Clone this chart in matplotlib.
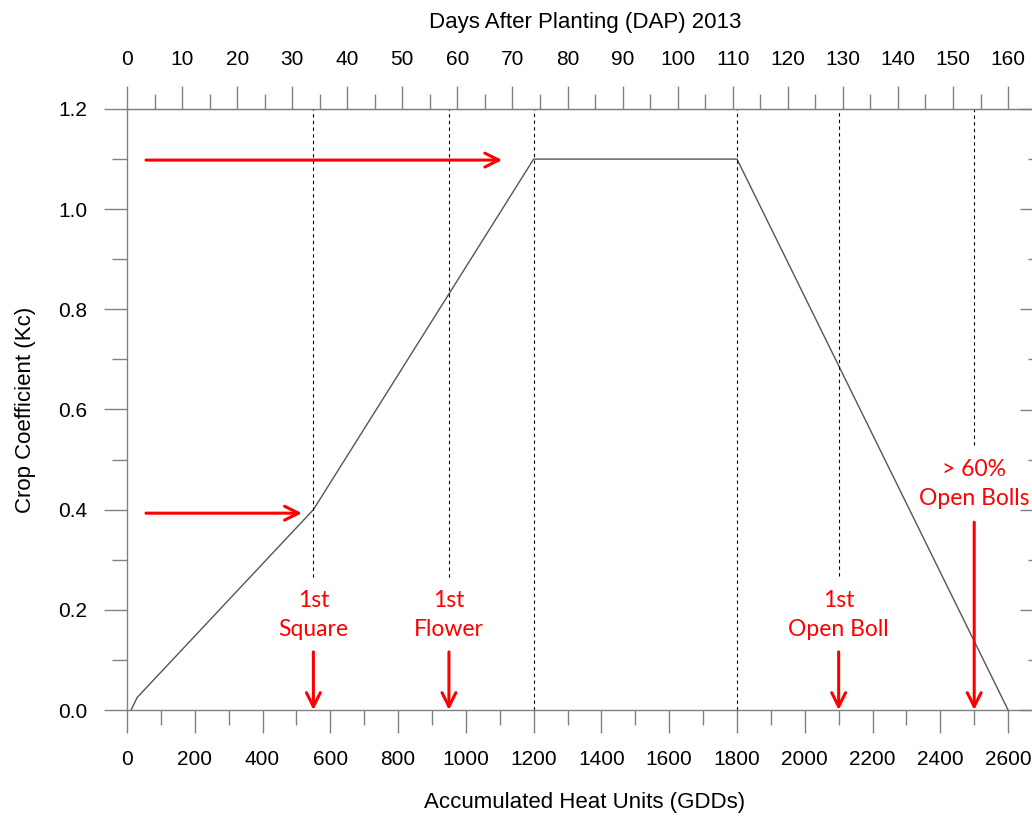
import matplotlib
matplotlib.use('Agg')
import matplotlib.pyplot as plt
from matplotlib.ticker import MultipleLocator, FormatStrFormatter, NullFormatter

# Kc curve vs accumulated heat units
gdd = [12, 30, 550, 1200, 1800, 2600]
kc = [0.0, 0.025, 0.4, 1.1, 1.1, 0.0]

# growth stages (dashed lines)
stage_gdd = [550, 950, 1200, 1800, 2100, 2500]
stage_bottom = [0.266, 0.266, 0.0, 0.0, 0.268, 0.53]

# red stage labels + down arrows
label_gdd = [550, 950, 2100, 2500]
label_text = ['1st\nSquare', '1st\nFlower', '1st\nOpen Boll', '> 60%\nOpen Bolls']
label_kc = [0.19, 0.19, 0.19, 0.451]
arrow_top = [0.116, 0.116, 0.116, 0.375]

# horizontal arrows (start gdd, tip gdd, kc)
harrows = [(56, 1107, 1.098), (56, 516, 0.393)]

plt.rcParams['font.family'] = ['Liberation Sans', 'DejaVu Sans']

fig = plt.figure(figsize=(10.32, 8.16), dpi=100)
W, H = 1032, 816
ax = fig.add_axes([127 / W, (H - 710) / H, (1043 - 127) / W, (710 - 109) / H])

ax.plot(gdd, kc, color='#555555', lw=1)
ax.vlines(stage_gdd, stage_bottom, 1.2, colors='black', linestyles=(0, (3, 3)), lw=0.8)

head = '->,head_length=0.5,head_width=0.25'
for x, t, y, yt in zip(label_gdd, label_text, label_kc, arrow_top):
    ax.text(x, y, t, color='red', ha='center', va='center', fontsize=16.5,
            family=['Lato', 'DejaVu Sans'], linespacing=1.45)
    ax.annotate('', xy=(x, 0), xytext=(x, yt),
                arrowprops=dict(arrowstyle=head, color='red', lw=2.2,
                                mutation_scale=20, shrinkA=0, shrinkB=0))

for x0, x1, y in harrows:
    ax.annotate('', xy=(x1, y), xytext=(x0, y),
                arrowprops=dict(arrowstyle=head, color='red', lw=2.2,
                                mutation_scale=20, shrinkA=0, shrinkB=0))

ax.set_xlim(0, 2703)
ax.set_ylim(0, 1.2)

spine_c = '#808080'
for s in ax.spines.values():
    s.set_color(spine_c)
    s.set_linewidth(1)

ax.xaxis.set_major_locator(MultipleLocator(200))
ax.xaxis.set_minor_locator(MultipleLocator(100))
ax.yaxis.set_major_locator(MultipleLocator(0.2))
ax.yaxis.set_minor_locator(MultipleLocator(0.1))
ax.yaxis.set_major_formatter(FormatStrFormatter('%.1f'))

ax.tick_params(which='both', direction='out', color=spine_c, width=1,
               labelsize=15, top=False, right=False)
ax.tick_params(which='major', length=16.5, pad=12)
ax.tick_params(which='minor', length=10.8)

ax.set_xlabel('Accumulated Heat Units (GDDs)', fontsize=16, labelpad=17)
ax.set_ylabel('Crop Coefficient (Kc)', fontsize=16, labelpad=16)

# right side: inward ticks, no labels
right = ax.secondary_yaxis('right')
right.yaxis.set_major_locator(MultipleLocator(0.2))
right.yaxis.set_minor_locator(MultipleLocator(0.1))
right.yaxis.set_major_formatter(NullFormatter())
right.spines['right'].set_color(spine_c)
right.tick_params(which='both', direction='in', color=spine_c, width=1)
right.tick_params(which='major', length=16.5)
right.tick_params(which='minor', length=10.8)

top = ax.secondary_xaxis('top', functions=(lambda g: g * 160 / 2600, lambda d: d * 2600 / 160))
top.xaxis.set_major_locator(MultipleLocator(10))
top.xaxis.set_minor_locator(MultipleLocator(5))
top.spines['top'].set_color(spine_c)
top.tick_params(which='both', direction='out', color=spine_c, width=1, labelsize=15)
top.tick_params(which='major', length=16.5, pad=12)
top.tick_params(which='minor', length=10.8)
top.set_xlabel('Days After Planting (DAP) 2013', fontsize=16, labelpad=16)

fig.savefig('out.png', dpi=100)
